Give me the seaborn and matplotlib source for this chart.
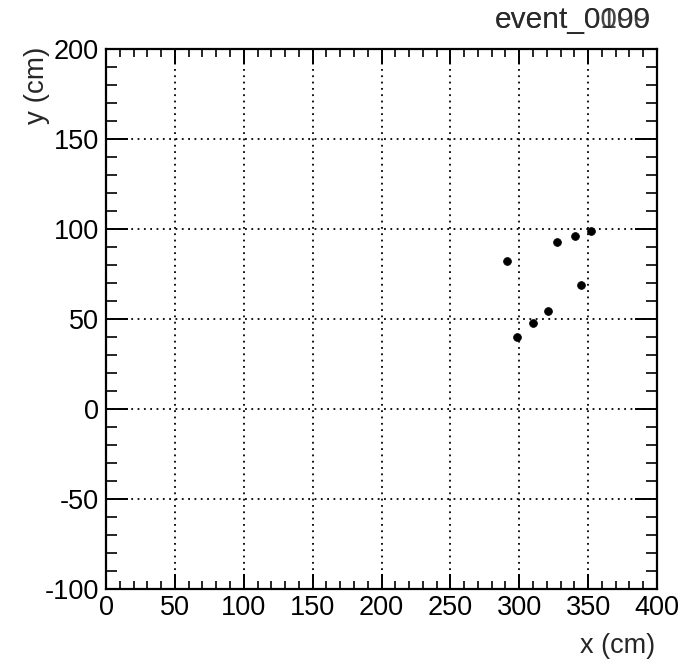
import matplotlib
matplotlib.use("Agg")
import matplotlib.pyplot as plt
import seaborn as sns
import pandas as pd
from matplotlib.ticker import MultipleLocator

x_cm = [291.1, 327.2, 340.5, 352.1, 344.6, 321.1, 309.7, 298.1]
y_cm = [82.2, 92.6, 95.9, 99.1, 68.9, 54.6, 47.8, 40.2]
titles = ["event_0099", "event_0100"]

sns.set_theme(style="white")
plt.rcParams['font.family'] = ['Liberation Sans', 'DejaVu Sans']

df = pd.DataFrame({"x": x_cm, "y": y_cm})

fig = plt.figure(figsize=(6.84, 6.63), dpi=100)
ax = fig.add_axes([106/684, 1 - 589/663, (657-106)/684, (589-49)/663])

sns.scatterplot(data=df, x="x", y="y", ax=ax, color="black", s=32,
                marker="o", edgecolor="black", linewidth=0.5, zorder=5)

ax.set_xlim(0, 400)
ax.set_ylim(-100, 200)
ax.xaxis.set_major_locator(MultipleLocator(50))
ax.xaxis.set_minor_locator(MultipleLocator(10))
ax.yaxis.set_major_locator(MultipleLocator(50))
ax.yaxis.set_minor_locator(MultipleLocator(10))

ax.grid(True, which="major", color="black", linestyle=(0, (1, 2.5)), linewidth=1.3)
for s in ax.spines.values():
    s.set_color("black")
    s.set_linewidth(1.6)

FS = 19.5
ax.tick_params(axis="x", which="major", direction="in", length=11, width=1.4,
               top=True, bottom=True, labelsize=FS, pad=4, colors="black")
ax.tick_params(axis="x", which="minor", direction="in", length=5.5, width=1.4,
               top=True, bottom=True)
ax.tick_params(axis="y", which="major", direction="in", length=16, width=1.4,
               left=True, right=True, labelsize=FS, pad=5, colors="black")
ax.tick_params(axis="y", which="minor", direction="in", length=8, width=1.4,
               left=True, right=True)
ax.set_xticklabels([f"{int(v)}" for v in ax.get_xticks()])
ax.set_yticklabels([f"{int(v)}" for v in ax.get_yticks()])

ax.set_xlabel("")
ax.set_ylabel("")
fig.text(655/684, 1 - 646/663, "x (cm)", ha="right", va="center", fontsize=FS)
fig.text(37/684, 1 - 47/663, "y (cm)", ha="center", va="top", rotation=90, fontsize=FS + 0.5)

for t in titles:
    fig.text(651/684, 1 - 20/663, t, ha="right", va="center", fontsize=21.5, alpha=0.85)

fig.savefig("out.png", dpi=100, facecolor="white")
